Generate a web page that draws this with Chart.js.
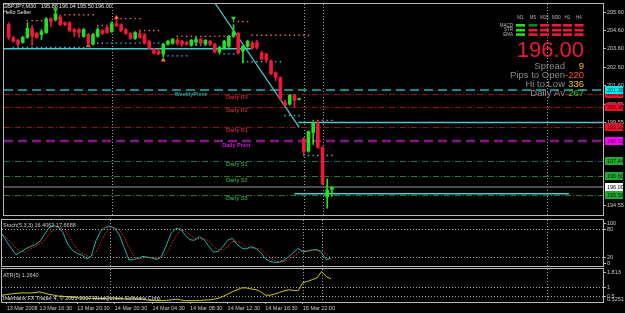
<!DOCTYPE html>
<html lang="en">
<head>
<meta charset="UTF-8">
<title>GBPJPY,M30</title>
<script src="https://cdn.jsdelivr.net/npm/chart.js"></script>
<style>
  html, body { margin: 0; padding: 0; background: #000; overflow: hidden; }
  canvas { position: absolute; left: 0; }
  #mainChart { top: 0; }
  #stochChart { top: 219px; }
  #atrChart { top: 268px; }
</style>
</head>
<body>
<canvas id="mainChart" width="625" height="219"></canvas>
<canvas id="stochChart" width="625" height="49"></canvas>
<canvas id="atrChart" width="625" height="45"></canvas>
<script>
// candles, bar 0 = 13 Mar 13:00, one bar per 30 min
const opens  = [204.90,204.20,204.04,203.93,204.20,204.69,204.42,204.36,204.47,205.22,
                205.17,205.33,205.01,205.01,204.63,204.63,204.26,204.36,203.83,204.26,
                204.58,204.74,204.52,204.95,204.90,204.63,204.42,204.15,204.42,204.36,
                203.99,203.56,203.45,203.29,203.83,203.88,204.04,203.99,203.93,203.77,
                203.93,204.09,203.83,203.99,203.83,203.40,203.61,203.72,204.26,204.42,
                203.45,203.72,203.88,203.93,203.34,203.29,202.91,202.27,202.00,200.65,
                200.55,201.03,200.80,198.66,197.97,198.99,199.52,198.18,195.47,195.88];
const highs  = [205.01,204.25,204.09,204.26,205.01,204.85,204.47,204.63,205.28,205.28,
                205.60,205.44,205.06,205.06,204.69,204.69,204.69,204.42,204.42,204.74,
                204.63,204.85,205.06,205.17,204.95,204.69,204.47,204.52,204.58,204.42,
                204.04,203.61,203.56,203.88,204.04,204.15,204.15,204.04,203.99,204.09,
                204.20,204.15,204.09,204.04,203.88,203.72,204.04,204.31,204.90,204.47,
                203.77,204.04,203.99,204.04,203.45,203.34,202.97,202.32,202.05,200.76,
                201.08,201.08,200.84,198.72,199.09,199.58,199.63,198.23,196.46,196.04];
const lows   = [204.09,203.93,203.72,203.88,204.15,203.77,204.15,204.09,204.42,204.79,
                205.10,204.85,204.85,204.52,204.26,204.20,204.20,203.72,203.77,204.20,
                204.36,204.42,204.47,204.79,204.52,204.36,204.09,204.09,204.15,203.83,
                203.56,203.29,203.24,203.13,203.77,203.83,203.77,203.72,203.77,203.72,
                203.77,203.83,203.77,203.77,203.34,203.34,203.56,203.66,204.20,203.29,
                202.80,203.66,203.56,203.56,202.97,202.86,202.16,201.84,200.76,200.44,
                200.49,200.38,200.78,197.80,197.91,198.34,198.12,196.14,194.85,195.50];
const closes = [204.20,203.99,203.83,204.20,204.69,204.26,204.20,204.52,205.22,205.06,
                205.49,204.90,204.90,204.58,204.52,204.47,204.63,203.88,204.36,204.63,
                204.42,204.47,204.95,204.85,204.58,204.42,204.15,204.47,204.20,203.88,
                203.61,203.34,203.29,203.83,203.99,204.09,203.88,203.83,203.83,204.04,
                204.09,203.88,204.04,203.83,203.40,203.66,203.99,204.26,204.52,203.34,
                203.72,203.99,203.61,203.66,203.02,202.97,202.21,202.00,200.87,200.49,
                201.03,200.76,200.82,197.97,199.04,199.52,198.18,196.19,195.85,196.00];

// indicator series start one bar left of the first candle (bar -1)
const stochMain   = [70, 53,38,24,31,37,42,46,53,68,83, 88,85,72,47,34,27,24,15,22,55,
                     76,84,86,82,67,40,13,14,17,21, 19,17,14,22,46,71,82,80,67,57,
                     56,64,57,43,30,32,42,56,60,47, 39,37,42,38,30,16,10,8,8,13,
                     20,29,38,31,32,35,36,29,14,16.4];
const stochSignal = [68, 62,50,38,31,31,37,42,48,56,68, 80,85,82,68,51,36,28,22,20,31,
                     51,72,82,84,78,63,40,22,15,17, 19,19,17,18,27,46,66,78,76,68,
                     60,59,59,55,43,35,35,43,53,54, 49,41,39,39,37,28,19,11,9,10,
                     14,21,29,33,34,33,34,33,26,17.7];
const atrValues   = [0.565, 0.60,0.64,0.66,0.685,0.685,0.685,0.70,0.74,0.68,0.61,
                     0.57,0.52,0.50,0.48,0.46,0.44,0.42,0.41,0.40,0.39,
                     0.39,0.40,0.42,0.41,0.39,0.38,0.37,0.37,0.37,0.35,
                     0.31,0.29,0.28,0.29,0.30,0.32,0.36,0.32,0.28,0.28,
                     0.28,0.29,0.31,0.32,0.35,0.40,0.50,0.62,0.74,0.85,
                     0.95,0.95,0.89,0.86,0.76,0.57,0.565,0.62,0.71,0.79,
                     0.85,0.81,0.80,1.22,1.29,1.38,1.47,1.81,1.54,1.42];

const timeLabels = ['13 Mar 2008','13 Mar 16:30','13 Mar 20:30','14 Mar 00:30','14 Mar 04:30',
                    '14 Mar 08:30','14 Mar 12:30','14 Mar 16:30','16 Mar 22:00'];
const timeBars = [0, 7, 15, 23, 31, 39, 47, 55, 63];
const daySeparators = [22, 63, 67, 115];

const priceTicks = [205.60, 204.60, 203.60, 202.60, 201.60, 200.55, 199.55, 194.55];
const stochTicks = [100, 80, 20, 0];
const stochLevels = [80, 20];
const atrTicks = [1.813, 1, 0.5];
const atrTickText = ['1.813', '1', '0.5'];
const atrLevels = [1, 0.5];

const pivotNames  = ['WeeklyPivot','Daily R3','Daily R2','Daily R1','Daily Pivot','Daily S1','Daily S2','Daily S3'];
const pivotValues = [201.30, 201.12, 200.38, 199.30, 198.51, 197.44, 196.60, 195.58];
const bidPrice = 196.00;

// [price, first bar, last bar]
const resistDots  = [[205.44,12,18],[205.12,4,8],[204.85,19,22],[205.23,24,28],[204.58,28,32],
                     [204.26,36,46],[205.07,48,51],[204.32,52,64],[199.66,65,69]];
const supportDots = [[203.65,1,16],[203.89,17,32],[203.19,33,38],[203.78,39,44],[203.30,45,48],
                     [202.87,50,58],[199.93,59,62],[197.74,63,69]];
const channelLines = [[203.58,-1,51.8],[199.55,61.8,126.9],[195.65,61,119.6]];
const trendLine = [[43.9,206.13],[62.0,199.29]];
const sellArrows = [[10,205.72],[48,205.25]];
const buyArrows  = [[17,203.74],[33,202.96],[23,205.28]];

const ohlcHeader = ['GBPJPY,M30','195.88','196.04','195.50','196.00'];
const tfNames = ['M1','M5','M15','M30','H1','H4'];
const signalRows = ['MACD','STR','EMA'];
// 1 up, 0 weak up, -1 down
const signalGrid = [[1,0,-1,-1,-1,-1],[1,-1,-1,-1,-1,-1],[1,-1,-1,-1,-1,-1]];
const infoNames  = ['Spread','Pips to Open','Hi to:Low','Daily Av'];
const infoValues = ['9','-220','336','267'];

// ---- styles ----
const FONT = '"Liberation Sans", Arial, sans-serif';
const UP = '#22e022', DOWN = '#f01838';
const xMin = -1, xMax = 126.87;
const dashDot = [6, 2, 1, 2];
const pivotStyle = [
  { line: '#128a8a', width: 2, dash: [9, 5], text: '#27a3a3', box: '#00e8f0', boxText: '#003c40', at: 35.4 },
  { line: '#8c1414', width: 1, dash: dashDot, text: '#b82a2a', box: '#e8102e', boxText: '#4a0000', at: 46.4 },
  { line: '#8c1414', width: 1, dash: dashDot, text: '#b82a2a', box: '#e8102e', boxText: '#4a0000', at: 46.4 },
  { line: '#8c1414', width: 1, dash: dashDot, text: '#b82a2a', box: '#e8102e', boxText: '#4a0000', at: 46.4 },
  { line: '#86128c', width: 2.5, dash: [9, 5], text: '#d21ed2', box: '#ff00ff', boxText: '#4a004a', at: 45.6 },
  { line: '#136c5c', width: 1, dash: dashDot, text: '#2e9a3a', box: '#22a830', boxText: '#002a00', at: 46.4 },
  { line: '#2a7a22', width: 1, dash: dashDot, text: '#2e9a3a', box: '#22a830', boxText: '#002a00', at: 46.4 },
  { line: '#2a7a22', width: 1, dash: dashDot, text: '#2e9a3a', box: '#22a830', boxText: '#002a00', at: 46.4 }
];
const infoColors = ['#f0c000', '#ff5028', '#f4c020', '#30d030'];
const cellColors = { '1': '#22e022', '0': '#1f7f1f', '-1': '#f01838' };

const candleColor = c => closes[c.dataIndex] >= opens[c.dataIndex] ? UP : DOWN;

function dotPoints(segs) {
  const pts = [];
  segs.forEach(([p, a, b]) => { for (let i = a; i <= b; i++) pts.push({ x: i, y: p }); });
  return pts;
}

// frame, day separators, dotted levels and right-hand scale text for every pane
const panelFrame = {
  id: 'panelFrame',
  beforeDatasetsDraw(chart, args, o) {
    const { ctx, chartArea: a, scales } = chart;
    ctx.save();
    ctx.lineWidth = 1;
    ctx.setLineDash([1, 2]);
    ctx.strokeStyle = '#a0a0a0';
    daySeparators.forEach(d => {
      const px = Math.round(scales.x.getPixelForValue(d)) + 0.5;
      ctx.beginPath(); ctx.moveTo(px, a.top); ctx.lineTo(px, a.bottom); ctx.stroke();
    });
    (o.levels || []).forEach(v => {
      const py = Math.round(scales.y.getPixelForValue(v)) + 0.5;
      ctx.beginPath(); ctx.moveTo(a.left, py); ctx.lineTo(a.right, py); ctx.stroke();
    });
    ctx.restore();
  },
  afterDraw(chart, args, o) {
    const { ctx, chartArea: a, scales } = chart;
    ctx.save();
    ctx.strokeStyle = '#b8b8b8';
    ctx.lineWidth = 1;
    ctx.strokeRect(a.left - 0.5, a.top - 0.5, a.right - a.left + 1, a.bottom - a.top + 1);
    ctx.font = '5.5px ' + FONT;
    ctx.textBaseline = 'middle';
    ctx.fillStyle = '#c8c8c8';
    const ticks = o.ticks || [];
    ticks.forEach((v, i) => {
      const inset = i === ticks.length - 1 ? (o.bottomInset || 3) : 3;
      const ty = Math.round(Math.min(Math.max(scales.y.getPixelForValue(v), a.top + 3), a.bottom - inset));
      ctx.beginPath(); ctx.moveTo(a.right + 1, ty + 0.5); ctx.lineTo(a.right + 3, ty + 0.5); ctx.stroke();
      ctx.fillText(o.tickText[i], a.right + 4, ty);
    });
    (o.captions || []).forEach(c => {
      ctx.fillStyle = c.color || '#c8c8c8';
      ctx.fillText(c.text, c.x, c.y);
    });
    ctx.restore();
  }
};

// pivots, bid line, price boxes and the info panel of the price pane
const mainDecor = {
  id: 'mainDecor',
  beforeDatasetsDraw(chart) {
    const { ctx, chartArea: a, scales: { y } } = chart;
    ctx.save();
    pivotValues.forEach((v, i) => {
      const st = pivotStyle[i];
      const py = Math.round(y.getPixelForValue(v)) + (st.width === 1 ? 0.5 : 0);
      ctx.strokeStyle = st.line; ctx.lineWidth = st.width; ctx.setLineDash(st.dash);
      ctx.beginPath(); ctx.moveTo(a.left, py); ctx.lineTo(a.right, py); ctx.stroke();
    });
    ctx.setLineDash([]);
    ctx.strokeStyle = '#4c4c4c'; ctx.lineWidth = 2;
    const by = Math.round(y.getPixelForValue(bidPrice));
    ctx.beginPath(); ctx.moveTo(a.left, by); ctx.lineTo(a.right, by); ctx.stroke();
    ctx.restore();
  },
  afterDatasetsDraw(chart) {
    const { ctx, scales: { x, y } } = chart;
    ctx.save();
    ctx.font = 'bold 5.5px ' + FONT;
    ctx.textBaseline = 'top';
    pivotValues.forEach((v, i) => {
      ctx.fillStyle = pivotStyle[i].text;
      ctx.fillText(pivotNames[i], x.getPixelForValue(pivotStyle[i].at), y.getPixelForValue(v) + 1);
    });
    ctx.restore();
  },
  afterDraw(chart) {
    const { ctx, chartArea: a, scales: { y } } = chart;
    ctx.save();
    // price boxes on the scale
    ctx.font = '5.5px ' + FONT;
    ctx.textBaseline = 'middle';
    const box = (v, bg, fg) => {
      const py = Math.round(y.getPixelForValue(v));
      ctx.fillStyle = bg; ctx.fillRect(a.right + 2, py - 4, 18, 8);
      ctx.fillStyle = fg; ctx.fillText(v.toFixed(2), a.right + 4, py);
    };
    pivotValues.slice().reverse().forEach((v, k) => {
      const st = pivotStyle[pivotValues.length - 1 - k];
      box(v, st.box, st.boxText);
    });
    box(bidPrice, '#ffffff', '#000000');

    // symbol header
    ctx.fillStyle = '#e4e4e4';
    const hx = [3, 41, 59, 77, 95];
    ohlcHeader.forEach((t, i) => ctx.fillText(t, hx[i], 6));
    ctx.fillText('Hello Seller', 3, 12.5);

    // timeframe signal table
    ctx.font = '4.5px ' + FONT;
    ctx.fillStyle = '#b4b4b4';
    const colX = [520.5, 533, 544.5, 556.5, 567.5, 579];
    const rowY = [25.3, 30.2, 34.6];
    ctx.textAlign = 'center';
    tfNames.forEach((n, i) => ctx.fillText(n, colX[i], 18));
    ctx.textAlign = 'right';
    signalRows.forEach((n, r) => ctx.fillText(n, 513, rowY[r]));
    signalGrid.forEach((row, r) => row.forEach((s, c) => {
      ctx.fillStyle = cellColors[s];
      ctx.fillRect(colX[c] - 4.5, rowY[r] - 1.3, 9, 2.6);
    }));

    // big bid price
    ctx.textBaseline = 'alphabetic';
    ctx.font = '22px ' + FONT;
    ctx.fillStyle = DOWN;
    ctx.fillText(bidPrice.toFixed(2), 584, 57);

    // info rows
    ctx.font = '9.5px ' + FONT;
    ctx.textBaseline = 'middle';
    infoNames.forEach((n, i) => {
      const ty = 66 + i * 9;
      ctx.fillStyle = '#8c8c8c';
      ctx.fillText(n, 565, ty);
      ctx.fillStyle = infoColors[i];
      ctx.fillText(infoValues[i], 584, ty);
    });
    ctx.restore();
  }
};

const baseOptions = (yMin, yMax, pad) => ({
  responsive: false,
  animation: false,
  devicePixelRatio: 1,
  events: [],
  layout: { padding: pad },
  scales: {
    x: { type: 'linear', min: xMin, max: xMax, offset: false, display: false },
    y: {
      position: 'right', min: yMin, max: yMax,
      afterFit: s => { s.width = 22; },
      ticks: { display: false }, grid: { display: false }, border: { display: false }
    }
  },
  plugins: { legend: { display: false }, tooltip: { enabled: false } }
});

// ---- price pane ----
const mainOpts = baseOptions(194.48, 206.03, { left: 2, top: 2, right: 0, bottom: 1 });
mainOpts.plugins.panelFrame = {
  ticks: priceTicks,
  tickText: priceTicks.map(v => v.toFixed(2)),
  bottomInset: 10
};

const flatLine = (p, a, b) => [{ x: a, y: p }, { x: b, y: p }];

new Chart(document.getElementById('mainChart'), {
  type: 'bar',
  data: {
    datasets: [
      {
        type: 'bar', order: 0, grouped: false, barThickness: 3, minBarLength: 1,
        data: opens.map((o, i) => ({ x: i, y: [Math.min(o, closes[i]), Math.max(o, closes[i])] })),
        backgroundColor: candleColor, borderWidth: 0
      },
      {
        type: 'bar', order: 1, grouped: false, barThickness: 1,
        data: opens.map((o, i) => ({ x: i, y: [lows[i], highs[i]] })),
        backgroundColor: candleColor, borderWidth: 0
      },
      {
        type: 'line', order: 2, data: dotPoints(resistDots), showLine: false,
        pointStyle: 'rect', pointRadius: 1, backgroundColor: '#f07048', borderWidth: 0
      },
      {
        type: 'line', order: 2, data: dotPoints(supportDots), showLine: false,
        pointStyle: 'rect', pointRadius: 1, backgroundColor: '#22c4e6', borderWidth: 0
      },
      {
        type: 'line', order: 2, data: sellArrows.map(([i, p]) => ({ x: i, y: p })), showLine: false,
        pointStyle: 'triangle', rotation: 180, pointRadius: 3, backgroundColor: '#30d030', borderWidth: 0
      },
      {
        type: 'line', order: 2, data: buyArrows.map(([i, p]) => ({ x: i, y: p })), showLine: false,
        pointStyle: 'triangle', pointRadius: 3, backgroundColor: '#ff6a28', borderWidth: 0
      },
      ...channelLines.map(([p, a, b]) => ({
        type: 'line', order: 3, data: flatLine(p, a, b),
        borderColor: '#4cc8d0', borderWidth: 1.5, pointRadius: 0
      })),
      {
        type: 'line', order: 3, data: trendLine.map(([i, p]) => ({ x: i, y: p })),
        borderColor: '#4cc8d0', borderWidth: 1.2, pointRadius: 0
      }
    ]
  },
  options: mainOpts,
  plugins: [panelFrame, mainDecor]
});

// ---- stochastic pane ----
const stochOpts = baseOptions(0, 100, { left: 2, top: 1, right: 0, bottom: 2 });
stochOpts.plugins.panelFrame = {
  levels: stochLevels,
  ticks: stochTicks,
  tickText: stochTicks.map(String),
  captions: [{ text: 'Stoch(5,3,3) 16.4062 17.6688', x: 3, y: 6 }]
};
new Chart(document.getElementById('stochChart'), {
  type: 'line',
  data: {
    datasets: [
      { data: stochMain.map((v, k) => ({ x: k - 1, y: v })), borderColor: '#20b2aa', borderWidth: 1, pointRadius: 0, tension: 0 },
      { data: stochSignal.map((v, k) => ({ x: k - 1, y: v })), borderColor: '#ff2020', borderWidth: 1, borderDash: [1.5, 1.5], pointRadius: 0, tension: 0 }
    ]
  },
  options: stochOpts,
  plugins: [panelFrame]
});

// ---- ATR pane with time axis ----
const atrOpts = baseOptions(0.21, 1.94, { left: 2, top: 1, right: 0, bottom: 0 });
atrOpts.scales.x = {
  type: 'linear', min: xMin, max: xMax, offset: false,
  afterBuildTicks: s => { s.ticks = timeBars.map(v => ({ value: v })); },
  afterFit: s => { s.height = 11; },
  ticks: {
    autoSkip: false, maxRotation: 0, align: 'start', padding: 1,
    color: '#c8c8c8', font: { size: 5.5, family: FONT },
    callback: (v, i) => timeLabels[i]
  },
  grid: { drawOnChartArea: false, drawTicks: true, tickLength: 2, color: '#a0a0a0' },
  border: { display: false }
};
atrOpts.plugins.panelFrame = {
  levels: atrLevels,
  ticks: atrTicks,
  tickText: atrTickText,
  captions: [
    { text: 'ATR(5) 1.2640', x: 3, y: 7 },
    { text: 'Interbank FX Trader 4, \u00a9 2001-2007 MetaQuotes Software Corp.', x: 3, y: 30, color: '#e0e0e0' },
    { text: '0.5251', x: 607, y: 31 }
  ]
};
new Chart(document.getElementById('atrChart'), {
  type: 'line',
  data: {
    datasets: [
      { data: atrValues.map((v, k) => ({ x: k - 1, y: v })), borderColor: '#cccc14', borderWidth: 1, pointRadius: 0, tension: 0 }
    ]
  },
  options: atrOpts,
  plugins: [panelFrame]
});
</script>
</body>
</html>
